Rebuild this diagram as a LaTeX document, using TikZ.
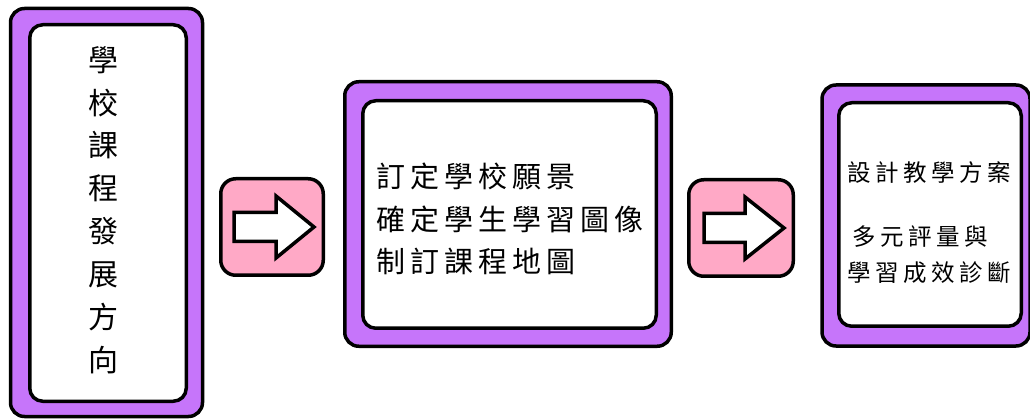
\documentclass[tikz,border=0pt]{standalone}
\usepackage{fontspec}
\newfontfamily\cjk{Noto Sans CJK TC}
\definecolor{boxpurple}{HTML}{C675FA}
\definecolor{arrowpink}{HTML}{FFA9C6}
\newcommand\kgapA{\hskip 5pt\relax}
\newcommand\kgapB{\hskip 4.5pt\relax}
\tikzset{
  outerbox/.style={draw=black, line width=3.5pt, fill=boxpurple, rounded corners=14pt, inner sep=0pt},
  innerbox/.style={draw=black, line width=3.5pt, fill=white, rounded corners=13pt, inner sep=0pt},
  arrowbox/.style={draw=black, line width=3.5pt, fill=arrowpink, rounded corners=15pt, inner sep=0pt},
  blockarrow/.style={draw=black, line width=3.5pt, fill=white, line join=miter, miter limit=10},
  label/.style={inner sep=0pt, font=\cjk, text=black},
}
\begin{document}
\begin{tikzpicture}[x=1pt,y=-1pt]
\useasboundingbox (0,0) rectangle (1030,419);
\clip (0,0) rectangle (1030,419);
% box 1
\node[outerbox, minimum width=192pt, minimum height=408pt] (o1) at (106.5,212.5) {};
\node[innerbox, minimum width=156.5pt, minimum height=376.5pt] (i1) at (108,213) {};
\node[label, align=center, font=\cjk\fontsize{30}{42.86}\selectfont] (t1) at (103,210)
  {學\\校\\課\\程\\發\\展\\方\\向};
% arrow 1
\node[arrowbox, minimum width=102.5pt, minimum height=96.5pt] (a1) at (272,227) {};
\begin{scope}[shift={(a1.center)}]
\draw[blockarrow] (-38,-14.5) -- (4,-14.5) -- (4,-31) -- (42,0) -- (4,31) -- (4,14.5) -- (-38,14.5) -- cycle;
\end{scope}
% box 2
\node[outerbox, minimum width=326.5pt, minimum height=264.5pt] (o2) at (508,214) {};
\node[innerbox, minimum width=293.5pt, minimum height=227.5pt] (i2) at (509.5,214.5) {};
\node[label, anchor=west, align=left, font=\cjk\fontsize{29}{42.5}\selectfont] (t2) at (376,219)
  {訂\kgapA 定\kgapA 學\kgapA 校\kgapA 願\kgapA 景\\
   確\kgapA 定\kgapA 學\kgapA 生\kgapA 學\kgapA 習\kgapA 圖\kgapA 像\\
   制\kgapA 訂\kgapA 課\kgapA 程\kgapA 地\kgapA 圖};
% arrow 2
\node[arrowbox, minimum width=104.5pt, minimum height=96.5pt] (a2) at (741,228) {};
\begin{scope}[shift={(a2.center)}]
\draw[blockarrow] (-37,-14.5) -- (4,-14.5) -- (4,-31) -- (43,0) -- (4,31) -- (4,14.5) -- (-37,14.5) -- cycle;
\end{scope}
% box 3
\node[outerbox, minimum width=208pt, minimum height=261pt] (o3) at (926,215.5) {};
\node[innerbox, minimum width=182.5pt, minimum height=223.5pt] (i3) at (930,214.5) {};
\node[label, anchor=west, align=left, font=\cjk\fontsize{23.5}{36}\selectfont] (t3) at (847,222.5)
  {設\kgapB 計\kgapB 教\kgapB 學\kgapB 方\kgapB 案\\[28pt]
   \hskip 5pt 多\kgapB 元\kgapB 評\kgapB 量\kgapB 與\\
   學\kgapB 習\kgapB 成\kgapB 效\kgapB 診\kgapB 斷};
\end{tikzpicture}
\end{document}
